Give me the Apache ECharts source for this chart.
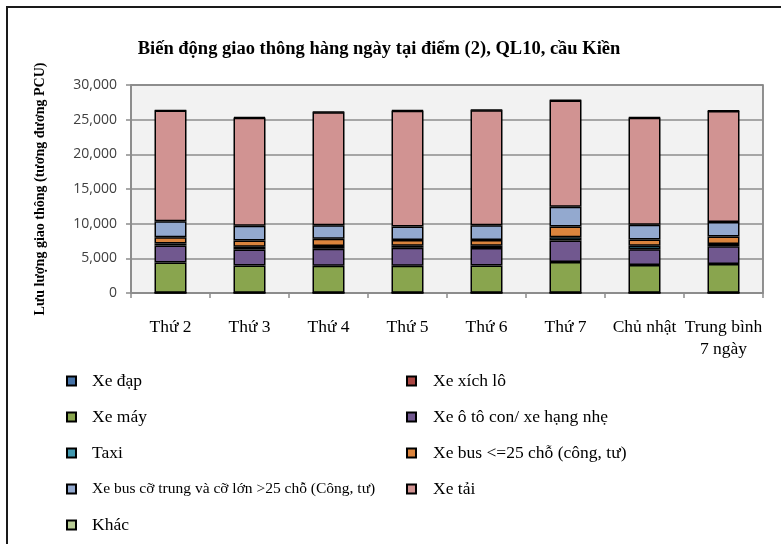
<!DOCTYPE html>
<html>
<head>
<meta charset="utf-8">
<script src="https://cdn.jsdelivr.net/npm/echarts@6/dist/echarts.min.js"></script>
<style>
  html, body { margin: 0; padding: 0; background: #ffffff; }
  #chart { width: 781px; height: 544px; }
</style>
</head>
<body>
<div id="chart"></div>
<script>
// Ngày trong tuần
const categories = ['Thứ 2', 'Thứ 3', 'Thứ 4', 'Thứ 5', 'Thứ 6', 'Thứ 7', 'Chủ nhật', 'Trung bình\n7 ngày'];

// Lưu lượng theo loại phương tiện (tương đương PCU)
const xeDap     = [30, 30, 30, 30, 30, 30, 30, 30];
const xeXichLo  = [5, 5, 5, 5, 5, 5, 5, 5];
const xeMay     = [4370, 3920, 3880, 3880, 3940, 4430, 3990, 4140];
const xeOto     = [2460, 2320, 2470, 2610, 2500, 3090, 2300, 2550];
const taxi      = [290, 390, 380, 280, 340, 490, 490, 340];
const busNho    = [870, 910, 1070, 830, 840, 1560, 890, 1080];
const busLon    = [2320, 2130, 1930, 1940, 2100, 2850, 2150, 2110];
const xeTai     = [15960, 15560, 16320, 16700, 16600, 15300, 15420, 16000];
const khac      = [60, 120, 60, 100, 60, 60, 80, 60];

const yTicks = [0, 5000, 10000, 15000, 20000, 25000, 30000];

const seriesDefs = [
  { name: 'Xe đạp', data: xeDap, color: '#4572A7' },
  { name: 'Xe xích lô', data: xeXichLo, color: '#AA4643' },
  { name: 'Xe máy', data: xeMay, color: '#89A54E' },
  { name: 'Xe ô tô con/ xe hạng nhẹ', data: xeOto, color: '#71588F' },
  { name: 'Taxi', data: taxi, color: '#4198AF' },
  { name: 'Xe bus <=25 chỗ (công, tư)', data: busNho, color: '#DB843D' },
  { name: 'Xe bus cỡ trung và cỡ lớn >25 chỗ (Công, tư)', data: busLon, color: '#93A9CF' },
  { name: 'Xe tải', data: xeTai, color: '#D19392' },
  { name: 'Khác', data: khac, color: '#B9CD96' }
];

const serif = '"Liberation Serif", "DejaVu Serif", serif';
const SMALL_NAME = 'Xe bus cỡ trung và cỡ lớn >25 chỗ (Công, tư)';

function legendColumn(left, textPad, names) {
  return {
    orient: 'vertical',
    left: left,
    top: 372,
    padding: 0,
    icon: 'rect',
    itemWidth: 9,
    itemHeight: 9,
    itemGap: 18,
    selectedMode: false,
    data: names,
    textStyle: {
      fontFamily: serif,
      fontSize: 17.5,
      color: '#000',
      lineHeight: 18,
      padding: [0, 0, 0, textPad],
      rich: {
        n: { fontFamily: serif, fontSize: 17.5, color: '#000', lineHeight: 18 },
        s: { fontFamily: serif, fontSize: 15.5, color: '#000', lineHeight: 18 }
      }
    },
    formatter: name => name === SMALL_NAME ? '{s|' + name + '}' : '{n|' + name + '}'
  };
}

const chart = echarts.init(document.getElementById('chart'), null, { renderer: 'canvas' });

chart.setOption({
  animation: false,
  backgroundColor: '#ffffff',
  title: {
    text: 'Biến động giao thông hàng ngày tại điểm (2), QL10, cầu Kiền',
    left: 374,
    textAlign: 'center',
    top: 35,
    textStyle: { fontFamily: serif, fontWeight: 'bold', fontSize: 18.5, color: '#000' }
  },
  graphic: [
    { type: 'line', shape: { x1: 6, y1: 7, x2: 781, y2: 7 }, style: { stroke: '#1a1a1a', lineWidth: 2 } },
    { type: 'line', shape: { x1: 7, y1: 6, x2: 7, y2: 544 }, style: { stroke: '#1a1a1a', lineWidth: 2 } }
  ],
  legend: [
    legendColumn(66, 11, ['Xe đạp', 'Xe máy', 'Taxi', SMALL_NAME, 'Khác']),
    legendColumn(406, 12, ['Xe xích lô', 'Xe ô tô con/ xe hạng nhẹ', 'Xe bus <=25 chỗ (công, tư)', 'Xe tải'])
  ],
  grid: {
    left: 131, top: 85, width: 632, height: 208,
    show: true,
    backgroundColor: '#F2F2F2',
    borderColor: '#6e6e6e',
    borderWidth: 1.5
  },
  xAxis: {
    type: 'category',
    data: categories,
    axisLine: { lineStyle: { color: '#8c8c8c', width: 1.5 } },
    axisTick: { show: true, length: 5, lineStyle: { color: '#8c8c8c', width: 1.5 } },
    axisLabel: {
      margin: 23,
      interval: 0,
      fontFamily: serif,
      fontSize: 17.5,
      lineHeight: 22,
      color: '#000'
    }
  },
  yAxis: {
    type: 'value',
    min: yTicks[0],
    max: yTicks[yTicks.length - 1],
    interval: yTicks[1] - yTicks[0],
    name: 'Lưu lượng giao thông (tương đương PCU)',
    nameLocation: 'middle',
    nameGap: 84,
    nameTextStyle: { fontFamily: serif, fontWeight: 'bold', fontSize: 14, color: '#000' },
    axisLine: { show: true, lineStyle: { color: '#8c8c8c', width: 1.5 } },
    axisTick: { show: true, length: 5, lineStyle: { color: '#8c8c8c', width: 1.5 } },
    axisLabel: {
      margin: 14,
      fontFamily: '"Open Sans", "DejaVu Sans", sans-serif',
      fontSize: 14,
      color: '#404040',
      formatter: v => v.toLocaleString('en-US')
    },
    splitLine: { lineStyle: { color: '#8c8c8c', width: 1.5 } }
  },
  series: seriesDefs.map(s => ({
    name: s.name,
    type: 'bar',
    stack: 'total',
    barWidth: 32,
    data: s.data,
    itemStyle: { color: s.color, borderColor: '#000', borderWidth: 1.5 }
  }))
});
</script>
</body>
</html>
